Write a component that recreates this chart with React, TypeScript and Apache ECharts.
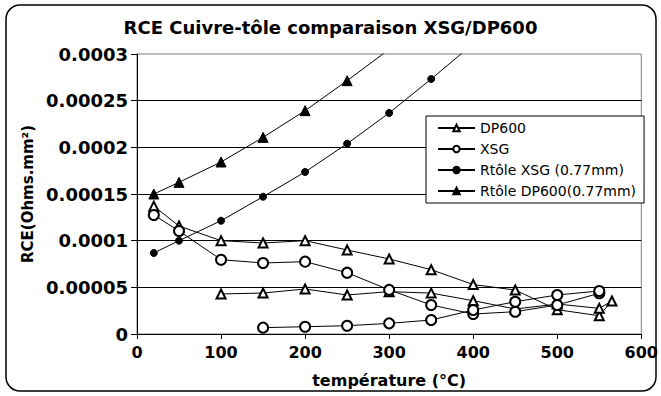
import React, { useEffect, useRef } from "react";
import * as echarts from "echarts";

const titleText = "RCE Cuivre-tôle comparaison XSG/DP600";
const xAxisName = "température (°C)";
const yAxisName = "RCE(Ohms.mm²)";
const yTickLabels = ["0", "0.00005", "0.0001", "0.00015", "0.0002", "0.00025", "0.0003"];

const seriesNames = ["DP600", "XSG", "Rtôle XSG (0.77mm)", "Rtôle DP600(0.77mm)"];

const dp600X = [20, 50, 100, 150, 200, 250, 300, 350, 400, 450, 500, 550, 565, 550, 500, 450, 400, 350, 300, 250, 200, 150, 100];
const dp600Y = [0.000137, 0.0001157, 0.0001, 0.0000975, 0.0001, 0.00009, 0.0000804, 0.0000689, 0.000053, 0.0000471, 0.000026, 0.0000196, 0.0000354, 0.0000275, 0.0000321, 0.0000268, 0.0000357, 0.0000438, 0.0000454, 0.0000418, 0.0000482, 0.0000439, 0.0000429];

const xsgX = [20, 50, 100, 150, 200, 250, 300, 350, 400, 450, 500, 550, 550, 500, 450, 400, 350, 300, 250, 200, 150];
const xsgY = [0.0001275, 0.0001104, 0.0000796, 0.0000761, 0.0000775, 0.0000657, 0.0000473, 0.0000311, 0.0000214, 0.0000239, 0.0000311, 0.0000436, 0.0000461, 0.0000418, 0.0000346, 0.0000257, 0.000015, 0.0000114, 0.0000089, 0.0000078, 0.0000068];

const rXsgX = [20, 50, 100, 150, 200, 250, 300, 350, 400];
const rXsgY = [0.0000868, 0.0001, 0.0001214, 0.0001471, 0.0001736, 0.0002039, 0.0002368, 0.0002732, 0.000311];

const rDpX = [20, 50, 100, 150, 200, 250, 300];
const rDpY = [0.00015, 0.0001625, 0.0001843, 0.0002107, 0.0002393, 0.0002714, 0.000305];

const pairs = (xs: number[], ys: number[]) => xs.map((x, i) => [x, ys[i]]);

export default function App() {
  const ref = useRef<HTMLDivElement>(null);
  useEffect(() => {
    if (!ref.current) return;
    const chart = echarts.init(ref.current, undefined, { renderer: "svg" });
    const lineSeries = (name: string, data: number[][], symbol: string, size: number) => ({
      name,
      type: "line",
      data,
      symbol,
      symbolSize: size,
      showAllSymbol: true,
      clip: true,
      lineStyle: { color: "#000", width: 1 },
      itemStyle: { color: "#000", borderColor: "#000", borderWidth: 1 },
      emphasis: { disabled: true },
    });
    chart.setOption({
      animation: false,
      backgroundColor: "#fff",
      title: {
        text: titleText,
        left: "center",
        top: 13,
        textStyle: { fontFamily: "DejaVu Sans", fontWeight: "bold", fontSize: 18, color: "#000" },
      },
      grid: { left: 137, right: 16, top: 54, bottom: 62, show: true, borderColor: "#808080", borderWidth: 1, backgroundColor: "transparent" },
      legend: {
        data: seriesNames,
        orient: "vertical",
        left: 426,
        top: 116,
        padding: [4, 8, 4, 11],
        itemGap: 5,
        itemWidth: 37,
        itemHeight: 8,
        backgroundColor: "#fff",
        borderColor: "#000",
        borderWidth: 1,
        borderRadius: 0,
        textStyle: { fontFamily: "DejaVu Sans", fontSize: 14, color: "#000", lineHeight: 16 },
      },
      xAxis: {
        type: "value",
        min: 0,
        max: 600,
        interval: 100,
        name: xAxisName,
        nameLocation: "middle",
        nameGap: 38,
        nameTextStyle: { fontFamily: "DejaVu Sans", fontWeight: "bold", fontSize: 16, color: "#000" },
        axisLine: { show: true, lineStyle: { color: "#000", width: 1 } },
        axisTick: { show: true, length: 5, lineStyle: { color: "#000" } },
        axisLabel: { fontFamily: "DejaVu Sans", fontWeight: "bold", fontSize: 16, color: "#000", margin: 10 },
        splitLine: { show: false },
      },
      yAxis: {
        type: "value",
        min: 0,
        max: 0.0003,
        interval: 0.00005,
        name: yAxisName,
        nameLocation: "middle",
        nameGap: 93,
        nameTextStyle: { fontFamily: "DejaVu Sans", fontWeight: "bold", fontSize: 15, color: "#000" },
        axisLine: { show: true, lineStyle: { color: "#000", width: 1 } },
        axisTick: { show: true, length: 6, lineStyle: { color: "#000" } },
        axisLabel: {
          fontFamily: "DejaVu Sans",
          fontWeight: "bold",
          fontSize: 18,
          color: "#000",
          margin: 9,
          formatter: (v: number) => yTickLabels[Math.round(v / 0.00005)] ?? "",
        },
        splitLine: { show: true, showMaxLine: false, lineStyle: { color: "#000", width: 1 } },
      },
      graphic: [
        {
          type: "rect",
          shape: { x: 6, y: 5, width: 650, height: 386, r: 14 },
          style: { fill: "none", stroke: "#000", lineWidth: 1.5 },
          silent: true,
          z: 100,
        },
      ],
      series: [
        lineSeries(seriesNames[0], pairs(dp600X, dp600Y), "emptyTriangle", 9),
        lineSeries(seriesNames[1], pairs(xsgX, xsgY), "emptyCircle", 10),
        lineSeries(seriesNames[2], pairs(rXsgX, rXsgY), "circle", 7),
        lineSeries(seriesNames[3], pairs(rDpX, rDpY), "triangle", 10),
      ],
    });
    return () => chart.dispose();
  }, []);
  return (
    <div
      ref={ref}
      style={{ position: "fixed", left: 0, top: 0, width: 661, height: 396, background: "#fff" }}
    />
  );
}
